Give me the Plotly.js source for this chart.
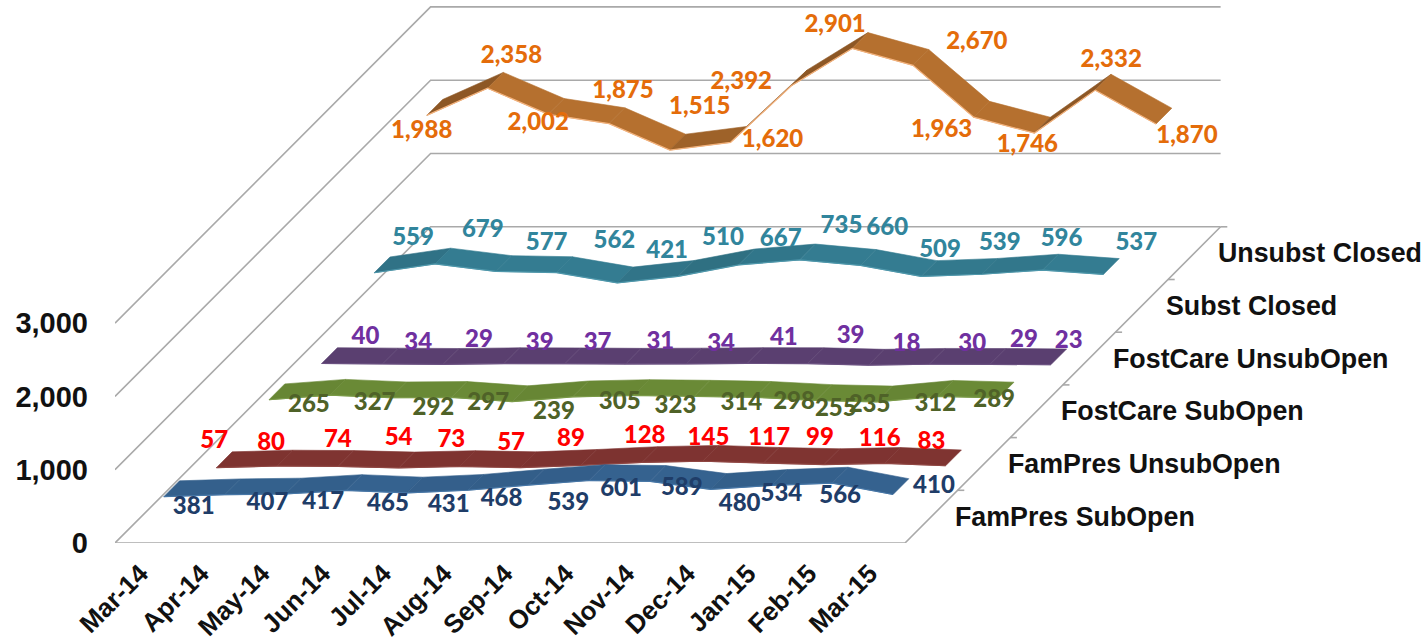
<!DOCTYPE html>
<html><head><meta charset="utf-8">
<script src="https://cdn.plot.ly/plotly-3.0.1.min.js"></script>
<style>html,body{margin:0;padding:0;background:#fff}#c{width:1425px;height:642px}</style>
</head><body><div id="c"></div>
<script>
// ---- data ----
const months = ["Mar-14","Apr-14","May-14","Jun-14","Jul-14","Aug-14","Sep-14","Oct-14","Nov-14","Dec-14","Jan-15","Feb-15","Mar-15"];
const seriesNames = ["FamPres SubOpen","FamPres UnsubOpen","FostCare SubOpen","FostCare UnsubOpen","Subst Closed","Unsubst Closed"];
const famPresSub   = [381,407,417,465,431,468,539,601,589,480,534,566,410];
const famPresUnsub = [57,80,74,54,73,57,89,128,145,117,99,116,83];
const fostCareSub  = [265,327,292,297,239,305,323,314,298,255,235,312,289];
const fostCareUnsub= [40,34,29,39,37,31,34,41,39,18,30,29,23];
const substClosed  = [559,679,577,562,421,510,667,735,660,509,539,596,537];
const unsubstClosed= [1988,2358,2002,1875,1515,1620,2392,2901,2670,1963,1746,2332,1870];
const valueTicks = [0,1000,2000,3000];

// ---- style ----
const ribbonColors = ["#35628f","#7f3431","#6a8a36","#5a3f70","#347c91","#b5702f"];
const edgeColors   = ["#4676a6","#8f4642","#7a9a48","#6a5080","#4e97ab","#f3b27c"];
const shadeDepth   = [0.1,0.06,0.08,0.04,0.12,0.22];
const labelColors  = ["#1f3d68","#ff0000","#4f6228","#7030a0","#31859c","#e46c0a"];
const gridColor = "#a9a9a9";

// label nudges in screen pixels, right / down of the ribbon point
const nudgeX = [
 [22,35,30,34,34,26,32,24,24,21,2,0,33],
 [-10,-14,-8,-8,-16,-17,-18,-5,-2,-2,-12,-13,-22],
 [32,37,35,29,34,39,34,39,31,12,-15,-10,-12],
 [36,28,28,28,25,27,27,29,35,30,35,26,10],
 [31,40,43,50,42,37,34,34,19,11,10,11,25],
 [-13,16,-18,6,22,34,-58,-25,56,-40,-15,8,23]];
const nudgeY = [
 [19,17,17,22,21,18,27,17,16,24,17,22,0],
 [-18,-14,-18,-21,-18,-16,-17,-18,-14,-16,-18,-15,-15],
 [14,17,19,15,19,14,19,16,14,17,12,17,11],
 [-18,-12,-15,-12,-12,-13,-11,-17,-19,-12,-11,-15,-15],
 [-26,-25,-20,-23,-23,-29,-17,-25,-28,-18,-22,-22,-22],
 [25,-23,18,-24,-34,7,5,-15,-14,22,21,-21,21]];

// ---- oblique projection: month, depth slot, value -> plot x, y ----
const W = 1425, H = 642, left = 115, floorY = 543;
const pxPerMonth = 60.77, pxPerValue = 0.0733;
const depthPxX = 52.6, depthPxY = 52.7;
const shiftX = depthPxX / pxPerMonth, shiftY = depthPxY / pxPerValue;
const nMonths = months.length, nSeries = seriesNames.length;
const px = (m, d) => m + d * shiftX;
const py = (v, d) => v + d * shiftY;
const ribbonHalf = 0.15;
const allSeries = [famPresSub,famPresUnsub,fostCareSub,fostCareUnsub,substClosed,unsubstClosed];

const traces = [];
const line = (xs, ys, color, width) => traces.push({type:"scatter",mode:"lines",x:xs,y:ys,
  line:{color:color,width:width},hoverinfo:"skip",cliponaxis:false});

// walls and floor
const mStart = -0.5, mEnd = nMonths - 0.5;
valueTicks.forEach(v => {
  line([px(mStart,0),px(mStart,nSeries),px(mEnd,nSeries)],[py(v,0),py(v,nSeries),py(v,nSeries)],gridColor,1.6);
});
line([px(mStart,0),px(mEnd,0),px(mEnd,nSeries)],[0,0,py(0,nSeries)],gridColor,1.6);
for (let k = 1; k <= nSeries; k++) {
  line([px(mEnd,k),px(mEnd,k)+0.11],[py(0,k),py(0,k)],gridColor,1.6);
}

function shade(hex, f){
  const n = parseInt(hex.slice(1),16);
  const c = [n>>16,(n>>8)&255,n&255].map(a=>Math.round(a*f));
  return "rgb("+c.join(",")+")";
}

// ribbons, back to front
for (let s = nSeries-1; s >= 0; s--) {
  const vals = allSeries[s], d = s + 0.5;
  for (let m = 0; m < nMonths-1; m++) {
    const slope = (vals[m+1]-vals[m]) * pxPerValue / pxPerMonth;
    const t = Math.max(0, Math.min(1, (slope+0.02)/0.25));
    const col = shade(ribbonColors[s], 1 - shadeDepth[s]*t);
    traces.push({type:"scatter",mode:"lines",fill:"toself",fillcolor:col,
      x:[px(m,d-ribbonHalf),px(m+1,d-ribbonHalf),px(m+1,d+ribbonHalf),px(m,d+ribbonHalf),px(m,d-ribbonHalf)],
      y:[py(vals[m],d-ribbonHalf),py(vals[m+1],d-ribbonHalf),py(vals[m+1],d+ribbonHalf),py(vals[m],d+ribbonHalf),py(vals[m],d-ribbonHalf)],
      line:{color:col,width:0.6},hoverinfo:"skip",cliponaxis:false});
  }
  line(vals.map((v,m)=>px(m,d-ribbonHalf)),vals.map(v=>py(v,d-ribbonHalf)),edgeColors[s],1.2);
}

// data labels
for (let s = 0; s < nSeries; s++) {
  const vals = allSeries[s], d = s + 0.5;
  traces.push({type:"scatter",mode:"text",cliponaxis:false,hoverinfo:"skip",
    x:vals.map((v,m)=>px(m,d)+nudgeX[s][m]/pxPerMonth),
    y:vals.map((v,m)=>py(v,d)-nudgeY[s][m]/pxPerValue),
    text:vals.map(v=>v.toLocaleString("en-US")),
    textposition:"middle center",
    textfont:{family:"Lato, sans-serif",size:24,color:labelColors[s],weight:900}});
}

const axisFont = "Liberation Sans, Arial, sans-serif";
const layout = {
  width:W,height:H,margin:{l:left,r:0,t:0,b:H-floorY,pad:0},
  paper_bgcolor:"#fff",plot_bgcolor:"#fff",showlegend:false,hovermode:false,
  xaxis:{range:[mStart,mStart+(W-left)/pxPerMonth],showgrid:false,zeroline:false,showline:false,
    tickmode:"array",tickvals:months.map((_,i)=>i-0.08),ticktext:months,tickangle:-45,ticks:"",
    ticklabelstandoff:9,tickfont:{family:axisFont,size:26,weight:700,color:"#111"}},
  yaxis:{range:[0,floorY/pxPerValue],showgrid:false,zeroline:false,showline:false,
    tickmode:"array",tickvals:valueTicks,ticktext:valueTicks.map(v=>v.toLocaleString("en-US")),ticks:"",
    ticklabelstandoff:26,tickfont:{family:axisFont,size:29,weight:700,color:"#111"}},
  annotations:seriesNames.map((name,s)=>({
    x:px(mEnd,s+0.5),y:py(0,s+0.5),xref:"x",yref:"y",text:name,showarrow:false,
    xanchor:"left",yanchor:"middle",xshift:22,
    font:{family:axisFont,size:26.8,weight:700,color:"#111"}}))
};
Plotly.newPlot("c",traces,layout,{staticPlot:true,displayModeBar:false});
</script></body></html>
